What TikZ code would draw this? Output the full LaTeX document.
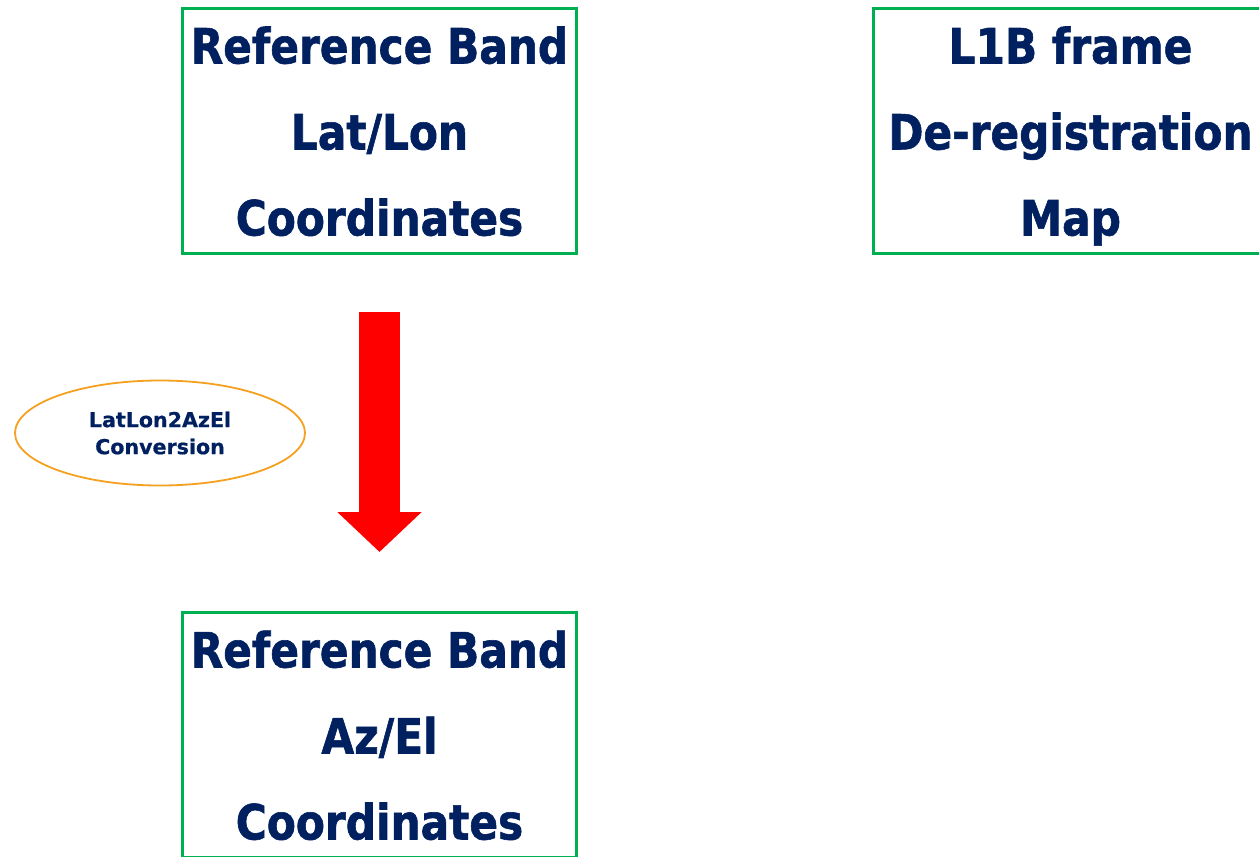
\documentclass[tikz,border=0pt]{standalone}
\usepackage{fontspec}
\setmainfont{DejaVu Sans}
\newfontfamily\boxfont[FakeStretch=0.87,FakeBold=1.2]{DejaVu Sans Bold}
\newfontfamily\tagfont[FakeBold=0.6]{DejaVu Sans Bold}
\usetikzlibrary{shapes.geometric,arrows.meta}
\definecolor{boxgreen}{RGB}{0,176,80}
\definecolor{navy}{RGB}{0,32,96}
\definecolor{tagorange}{RGB}{245,160,30}

\begin{document}
\begin{tikzpicture}[x=1pt,y=-1pt,
    box/.style={draw=boxgreen, line width=3pt, fill=white, minimum width=394pt,
        minimum height=245pt, inner sep=0pt, align=center, text=navy, text depth=0pt,
        font=\boxfont\fontsize{48.6}{86}\selectfont},
    tag/.style={ellipse, draw=tagorange, line width=1.8pt, minimum width=290pt,
        minimum height=105pt, inner sep=0pt, align=center, text=navy,
        font=\tagfont\fontsize{20.6}{27}\selectfont},
    bigarrow/.style={draw=red, line width=41pt, -{Triangle[length=40pt,width=82pt]}}]
        % fix the picture size
        \useasboundingbox (0,0) rectangle (1259,857);
        \clip (0,0) rectangle (1259,857);

        % the boxes
        \node[box] (latlon) at (379.5,131) {Reference Band\\Lat/Lon\\Coordinates};
        \node[box] (dereg) at (1070.5,131) {L1B frame\\De-registration\\Map};
        \node[box] (azel) at (379.5,735) {Reference Band\\Az/El\\Coordinates};

        % the conversion step
        \node[tag] (convert) at (160,433) {LatLon2AzEl\\Conversion};

        % the arrow
        \coordinate (from) at (379.5,312);
        \coordinate (to) at (379.5,552);
        \draw[bigarrow] (from) -- (to);

\end{tikzpicture}
\end{document}
